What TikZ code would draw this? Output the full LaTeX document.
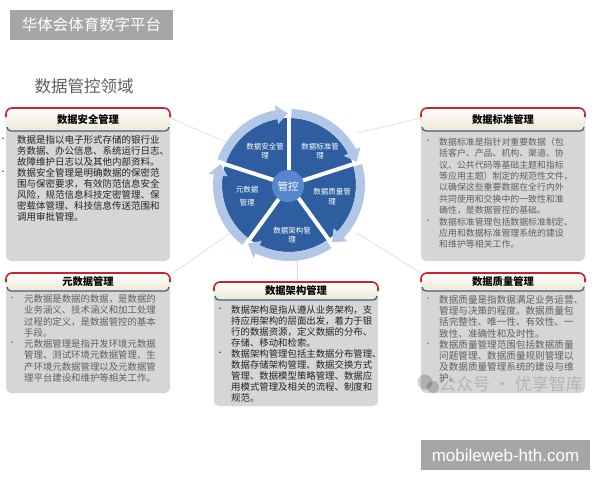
\documentclass[tikz,border=0pt]{standalone}
\usepackage{fontspec}
\setmainfont{Noto Sans CJK SC}
\newfontfamily\latinsans{Liberation Sans}
\definecolor{secblue}{RGB}{46,94,160}
\definecolor{ringblue}{RGB}{178,199,230}
\definecolor{hubblue}{RGB}{86,134,204}
\definecolor{bodygray}{RGB}{214,214,214}
\definecolor{headbeige}{RGB}{236,232,212}
\definecolor{headred}{RGB}{200,36,44}
\definecolor{headblue}{RGB}{62,92,140}
\definecolor{linegray}{RGB}{220,220,220}
\definecolor{taggray}{RGB}{166,166,166}
\definecolor{txtdark}{RGB}{35,35,35}
\definecolor{txtmid}{RGB}{95,95,95}
\definecolor{subgray}{RGB}{95,95,95}
% #1 x1, #2 y1, #3 x2, #4 y header bottom, #5 y2
\newcommand\infoframe[5]{%
  \fill[bodygray, rounded corners=5pt] (#1,#4-6) rectangle (#3,#5);
  \shade[top color=white, bottom color=headbeige, rounded corners=6pt] (#1,#2) rectangle (#3,#4);
  \draw[gray!45, line width=0.4pt, rounded corners=6pt] (#1,#4) -- (#1,#2) -- (#3,#2) -- (#3,#4);
  \draw[headred, line width=1.6pt, rounded corners=6pt] (#1,#2+9) -- (#1,#2) -- (#3,#2) -- (#3,#2+9);
  \draw[headblue, line width=1.3pt, rounded corners=4pt] (#1+1,#4-4) -- (#1+1,#4) -- (#3-1,#4) -- (#3-1,#4-4);
}
\tikzset{
  headtitle/.style={font=\bfseries\fontsize{10.3}{12}\selectfont, text=black, inner sep=0pt},
  para/.style={anchor=north west, align=left, inner sep=0pt},
  bulletmark/.style={font=\fontsize{7}{7}\selectfont, inner sep=0pt},
  sectext/.style={font=\fontsize{7.5}{9.5}\selectfont, text=white, align=center, inner sep=0pt},
  link/.style={draw=linegray, line width=0.6pt},
  tag/.style={fill=taggray, text=white, inner sep=0pt, minimum height=30pt},
}
\newcommand\ringseg[2]{% #1 start angle, #2 end angle (tip), clockwise
  \fill[ringblue] (#1:76) arc[start angle=#1, end angle=#2+9, radius=76]
    -- (#2+9:81) -- (#2:71.5) -- (#2+9:62) -- (#2+9:67)
    arc[start angle=#2+9, end angle=#1, radius=67] -- cycle;
}
\begin{document}
\begin{tikzpicture}[x=1pt, y=-1pt]
\fill[white] (0,0) rectangle (600,480);
\useasboundingbox (0,0) rectangle (600,480);

% title tags
\node[tag, minimum width=163pt] (brand) at (91.5,25) {\fontsize{15.5}{16}\selectfont 华体会体育数字平台};
\node[text=subgray, inner sep=0pt] (domain) at (84,86) {\fontsize{16.5}{18}\selectfont 数据管控领域};
\node[tag, minimum width=169pt] (site) at (505.5,455) {\latinsans\fontsize{17}{18}\selectfont mobileweb-hth.com};

% connector coordinates
\coordinate (ltA) at (170,118); \coordinate (ltB) at (228,143);
\coordinate (rtA) at (421,118); \coordinate (rtB) at (357,133);
\coordinate (lbA) at (170,275); \coordinate (lbB) at (232,232);
\coordinate (rbA) at (421,273); \coordinate (rbB) at (357,233);
\coordinate (cbA) at (297,282); \coordinate (cbB) at (297,258);
\draw[link] (ltA) -- (ltB);
\draw[link] (rtA) -- (rtB);
\draw[link] (lbA) -- (lbB);
\draw[link] (rbA) -- (rbB);
\draw[link] (cbA) -- (cbB);

% wheel
\begin{scope}[shift={(289,185)}, y=1pt]
  \fill[secblue] (0,0) circle (67);
  \foreach \a in {90,18,-54,-126,162} \draw[white, line width=4pt] (0,0) -- (\a:68);
  \ringseg{160}{91}
  \ringseg{88}{19}
  \ringseg{16}{-53}
  \ringseg{-56}{-125}
  \ringseg{-128}{-197}
  \fill[hubblue] (-1,-1) circle (16);
\end{scope}
\node[text=white, inner sep=0pt] (hub) at (288,186.5) {\fontsize{10.5}{12}\selectfont 管控};
\node[sectext] (s1) at (265,151) {数据安全管\\理};
\node[sectext] (s2) at (320,151) {数据标准管\\理};
\node[sectext] (s3) at (332,196.5) {数据质量管\\理};
\node[sectext] (s4) at (292,235) {数据架构管\\理};
\node[sectext, font=\fontsize{7.5}{13}\selectfont] (s5) at (247,196.5) {元数据\\管理};

% boxes
\infoframe{6}{108}{170}{131}{261}
\infoframe{421}{108}{585}{131}{261}
\infoframe{6}{273}{170}{291}{393}
\infoframe{421}{273}{585}{291}{393}
\infoframe{214}{282}{378}{300}{406}

\node[headtitle] (h1) at (88,119.5) {数据安全管理};
\node[headtitle] (h2) at (503,119.5) {数据标准管理};
\node[headtitle] (h3) at (88,282) {元数据管理};
\node[headtitle] (h4) at (503,282) {数据质量管理};
\node[headtitle] (h5) at (296,291) {数据架构管理};

% left top text
\begin{scope}[every node/.append style={text=txtdark}]
\node[bulletmark] (b1a) at (3,140) {•};
\node[bulletmark] (b1b) at (3,173) {•};
\node[para, font=\fontsize{9.5}{11}\selectfont] (p1a) at (17,135.3) {数据是指以电子形式存储的银行业\\务数据、办公信息、系统运行日志、\\故障维护日志以及其他内部资料。};
\node[para, font=\fontsize{9.5}{11}\selectfont] (p1b) at (17,168.3) {数据安全管理是明确数据的保密范\\围与保密要求，有效防范信息安全\\风险，规范信息科技定密管理、保\\密载体管理、科技信息传送范围和\\调用审批管理。};
\end{scope}

% right top text
\begin{scope}[every node/.append style={text=txtmid}]
\node[bulletmark] (b2a) at (428,142) {•};
\node[bulletmark] (b2b) at (428,221.8) {•};
\node[para, font=\fontsize{8.9}{11.4}\selectfont] (p2a) at (439,137.5) {数据标准是指针对重要数据（包\\括客户、产品、机构、渠道、协\\议、公共代码等基础主题和指标\\等应用主题）制定的规范性文件，\\以确保这些重要数据在全行内外\\共同使用和交换中的一致性和准\\确性，是数据管控的基础。};
\node[para, font=\fontsize{8.9}{11.4}\selectfont] (p2b) at (439,217.3) {数据标准管理包括数据标准制定、\\应用和数据标准管理系统的建设\\和维护等相关工作。};
\end{scope}

% left bottom text
\begin{scope}[every node/.append style={text=txtmid}]
\node[bulletmark] (b3a) at (12,299) {•};
\node[bulletmark] (b3b) at (12,344.2) {•};
\node[para, font=\fontsize{9.4}{11.3}\selectfont] (p3a) at (24,294.3) {元数据是数据的数据，是数据的\\业务涵义、技术涵义和加工处理\\过程的定义，是数据管控的基本\\手段。};
\node[para, font=\fontsize{9.4}{11.3}\selectfont] (p3b) at (24,339.5) {元数据管理是指开发环境元数据\\管理、测试环境元数据管理、生\\产环境元数据管理以及元数据管\\理平台建设和维护等相关工作。};
\end{scope}

% right bottom text
\begin{scope}[every node/.append style={text=txtmid}]
\node[bulletmark] (b4a) at (428,300) {•};
\node[bulletmark] (b4b) at (428,344.8) {•};
\node[para, font=\fontsize{9.6}{11.2}\selectfont] (p4a) at (439,295.2) {数据质量是指数据满足业务运营、\\管理与决策的程度。数据质量包\\括完整性、唯一性、有效性、一\\致性、准确性和及时性。};
\node[para, font=\fontsize{9.6}{11.2}\selectfont] (p4b) at (439,340) {数据质量管理范围包括数据质量\\问题管理、数据质量规则管理以\\及数据质量管理系统的建设与维\\护。};
\end{scope}

% center text
\begin{scope}[every node/.append style={text=txtdark}]
\node[bulletmark] (b5a) at (220,310) {•};
\node[bulletmark] (b5b) at (220,354) {•};
\node[para, font=\fontsize{9.4}{11}\selectfont] (p5a) at (231,305.3) {数据架构是指从遵从业务架构，支\\持应用架构的层面出发，着力于银\\行的数据资源，定义数据的分布、\\存储、移动和检索。};
\node[para, font=\fontsize{9.4}{11}\selectfont] (p5b) at (231,349.3) {数据架构管理包括主数据分布管理、\\数据存储架构管理、数据交换方式\\管理、数据模型策略管理、数据应\\用模式管理及相关的流程、制度和\\规范。};
\end{scope}

% watermark
\fill[black, opacity=0.18] (425,382) circle (7.5);
\fill[black, opacity=0.18] (433,387) circle (6);
\node[text=black, text opacity=0.16, inner sep=0pt] (wm) at (511,384) {\fontsize{17}{18}\selectfont 公众号 · 优享智库};
\end{tikzpicture}
\end{document}
